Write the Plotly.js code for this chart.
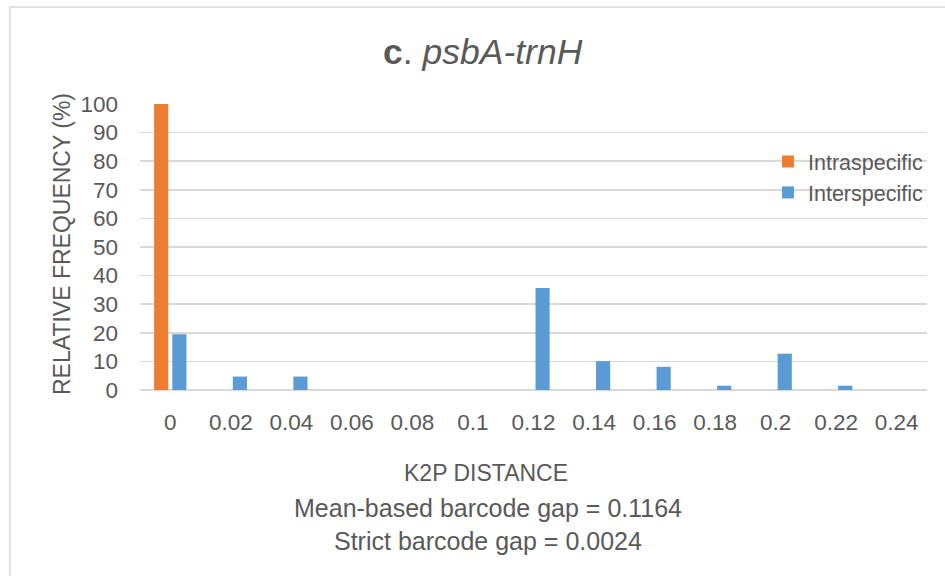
<!DOCTYPE html>
<html>
<head>
<meta charset="utf-8">
<script src="https://cdn.plot.ly/plotly-3.0.1.min.js"></script>
<style>
html,body{margin:0;padding:0;background:#fff;}
#chart{width:945px;height:576px;}
</style>
</head>
<body>
<div id="chart"></div>
<script>
// ---- data ----
const categories = ['0','0.02','0.04','0.06','0.08','0.1','0.12','0.14','0.16','0.18','0.2','0.22','0.24'];
const intraspecific = [100,0,0,0,0,0,0,0,0,0,0,0,0];
const interspecific = [19.5,4.7,4.7,0,0,0,35.7,10.1,8.1,1.5,12.7,1.5,0];
const yTicks = [0,10,20,30,40,50,60,70,80,90,100];
const seriesNames = ['Intraspecific','Interspecific'];
const titleText = '<b>c</b>. <i>psbA-trnH</i>';
const yTitle = 'RELATIVE FREQUENCY (%)';
const xTitle = 'K2P DISTANCE';
const noteLines = ['Mean-based barcode gap = 0.1164','Strict barcode gap = 0.0024'];

// ---- geometry (pixels) ----
const W = 945, H = 576;
const L = 140, R = 927, T = 104, B = 390;
const pw = R - L, ph = B - T;
const px = x => (x - L) / pw;
const py = y => (B - y) / ph;

const txt = '#595959';
const font = 'Liberation Sans, Arial, sans-serif';

const traces = [
  {type:'bar', name:seriesNames[0], x:categories, y:intraspecific,
   marker:{color:'#ED7D31', line:{width:0}}, legendgroup:'a'},
  {type:'bar', name:seriesNames[1], x:categories, y:interspecific,
   marker:{color:'#5B9BD5', line:{width:0}}, legendgroup:'b'}
];

const layout = {
  width: W, height: H,
  margin: {l:L, r:W-R, t:T, b:H-B, pad:0},
  paper_bgcolor:'#ffffff', plot_bgcolor:'#ffffff',
  font:{family:font, color:txt, size:22},
  barmode:'group', bargap:0.4, bargroupgap:0.22,
  showlegend:true,
  legend:{x:px(928), xanchor:'right', y:py(141), yanchor:'top', bgcolor:'rgba(0,0,0,0)',
          font:{size:21.5, color:txt, family:font}, traceorder:'normal',
          tracegroupgap:0, itemwidth:30},
  xaxis:{type:'category', showgrid:false, zeroline:false, showline:false,
         ticks:'', ticklabelstandoff:16, tickfont:{size:22.5, color:txt}},
  yaxis:{range:[0,100], tickvals:yTicks, showgrid:true, gridcolor:'#d9d9d9', gridwidth:1.5,
         zeroline:true, zerolinecolor:'#d9d9d9', zerolinewidth:1.5, showline:false,
         ticks:'', ticklabelstandoff:21, tickfont:{size:22.5, color:txt}},
  shapes:[
    {type:'rect', xref:'paper', yref:'paper', x0:px(10), x1:px(960), y0:py(600), y1:py(7),
     line:{color:'#d9d9d9', width:1.5}, fillcolor:'rgba(0,0,0,0)', layer:'below'}
  ],
  annotations:[
    {text:titleText, xref:'paper', yref:'paper', x:px(483), y:py(52), xanchor:'center', yanchor:'middle',
     showarrow:false, font:{size:35.5, color:txt, family:font}},
    {text:yTitle, xref:'paper', yref:'paper', x:px(62), y:py(244), xanchor:'center', yanchor:'middle',
     textangle:-90, showarrow:false, font:{size:23, color:txt, family:font}},
    {text:xTitle, xref:'paper', yref:'paper', x:px(486), y:py(473), xanchor:'center', yanchor:'middle',
     showarrow:false, font:{size:23, color:txt, family:font}},
    {text:noteLines[0], xref:'paper', yref:'paper', x:px(488), y:py(508), xanchor:'center', yanchor:'middle',
     showarrow:false, font:{size:25, color:txt, family:font}},
    {text:noteLines[1], xref:'paper', yref:'paper', x:px(488), y:py(541), xanchor:'center', yanchor:'middle',
     showarrow:false, font:{size:25, color:txt, family:font}}
  ]
};

Plotly.newPlot('chart', traces, layout, {displayModeBar:false, staticPlot:true});
</script>
</body>
</html>
